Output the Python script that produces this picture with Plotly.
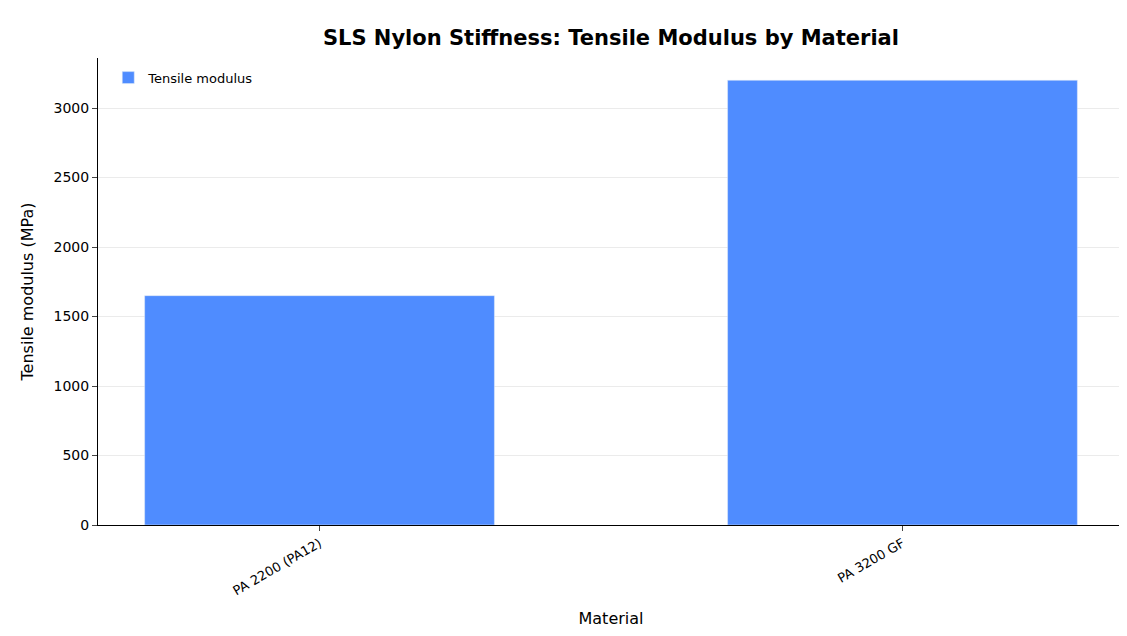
import plotly.graph_objects as go

materials = ["PA 2200 (PA12)", "PA 3200 GF"]
modulus = [1650, 3200]

fig = go.Figure()
fig.add_trace(go.Bar(x=materials, y=modulus, name="Tensile modulus",
                     marker_color="#4f8cff", width=0.6))
fig.update_layout(
    width=1127, height=636,
    margin=dict(l=90, r=11, t=50, b=119),
    plot_bgcolor="#FFF", paper_bgcolor="#FFF",
    font=dict(family="DejaVu Sans", size=14, color="#000"),
    title=dict(text="<b>SLS Nylon Stiffness: Tensile Modulus by Material</b>",
               x=0.535, y=0.965, xanchor="center", font=dict(size=21)),
    showlegend=True,
    legend=dict(x=0.01, y=0.99, xanchor="left", yanchor="top",
                bgcolor="rgba(0,0,0,0)", font=dict(size=13)),
    xaxis=dict(title=dict(text="Material", font=dict(size=16)), range=[-0.38, 1.38],
               showline=True, linecolor="#000", ticks="outside", tickangle=-30,
               tickfont=dict(size=13), showgrid=False),
    yaxis=dict(title=dict(text="Tensile modulus (MPa)", font=dict(size=16)),
               range=[0, 3360], dtick=500, showline=True, linecolor="#000",
               ticks="outside", gridcolor="#ebebeb", zeroline=False,
               tickfont=dict(size=14)),
)
fig.write_html("out.html")
